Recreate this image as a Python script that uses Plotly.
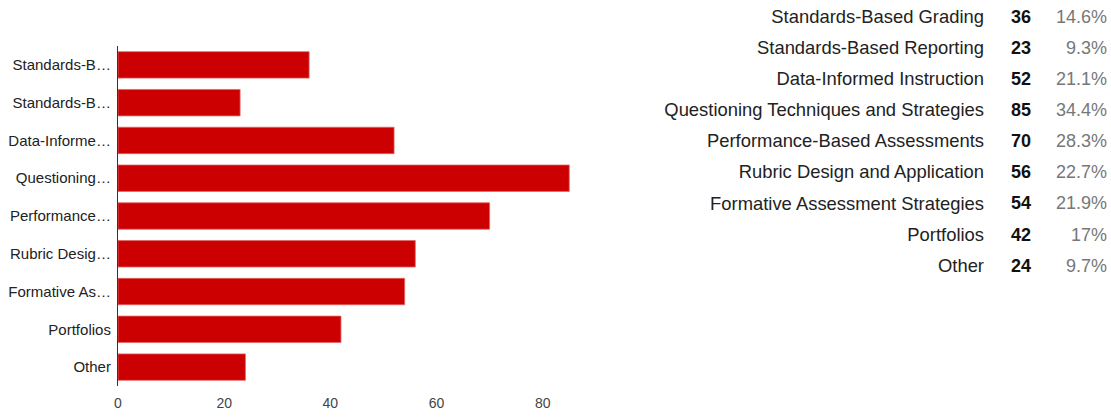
import plotly.graph_objects as go

# ---- data ----
categories = [
    "Standards-Based Grading",
    "Standards-Based Reporting",
    "Data-Informed Instruction",
    "Questioning Techniques and Strategies",
    "Performance-Based Assessments",
    "Rubric Design and Application",
    "Formative Assessment Strategies",
    "Portfolios",
    "Other",
]
short_labels = [
    "Standards-B\u2026",
    "Standards-B\u2026",
    "Data-Informe\u2026",
    "Questioning\u2026",
    "Performance\u2026",
    "Rubric Desig\u2026",
    "Formative As\u2026",
    "Portfolios",
    "Other",
]
counts = [36, 23, 52, 85, 70, 56, 54, 42, 24]
percents = ["14.6%", "9.3%", "21.1%", "34.4%", "28.3%", "22.7%", "21.9%", "17%", "9.7%"]
x_ticks = [0, 20, 40, 60, 80]

# ---- layout constants ----
W, H = 1111, 417
FONT = "Liberation Sans, Arial, sans-serif"
TBL_LEFT = 620
LABEL_RIGHT = 984
COUNT_LEFT = 1011
PCT_RIGHT = 1107

fig = go.Figure()

fig.add_trace(go.Bar(
    x=counts,
    y=categories,
    orientation="h",
    marker=dict(color="#cc0000", line=dict(color="#e06666", width=0.8)),
    hoverinfo="x+y",
    xaxis="x", yaxis="y",
))

# right-hand summary table as text columns
fig.add_trace(go.Scatter(
    x=[LABEL_RIGHT] * len(categories), y=categories, text=categories,
    mode="text", textposition="middle left",
    textfont=dict(family=FONT, size=18.4, color="#222222"),
    xaxis="x2", yaxis="y2", hoverinfo="skip",
))
fig.add_trace(go.Scatter(
    x=[COUNT_LEFT] * len(categories), y=categories,
    text=["<b>%d</b>" % c for c in counts],
    mode="text", textposition="middle right",
    textfont=dict(family=FONT, size=18, color="#111111"),
    xaxis="x2", yaxis="y2", hoverinfo="skip",
))
fig.add_trace(go.Scatter(
    x=[PCT_RIGHT] * len(categories), y=categories, text=percents,
    mode="text", textposition="middle left",
    textfont=dict(family=FONT, size=18, color="#777777"),
    xaxis="x2", yaxis="y2", hoverinfo="skip",
))

fig.update_layout(
    template="none",
    width=W, height=H,
    margin=dict(l=0, r=0, t=0, b=0),
    paper_bgcolor="white", plot_bgcolor="rgba(0,0,0,0)",
    showlegend=False,
    bargap=0.3,
    font=dict(family=FONT),
    xaxis=dict(
        domain=[118 / W, 595.8 / W], range=[0, 90],
        tickvals=x_ticks, showgrid=False, zeroline=False, showline=False,
        ticks="outside", ticklen=4, tickcolor="rgba(0,0,0,0)",
        tickfont=dict(family=FONT, size=14, color="#444444"),
        automargin=False, fixedrange=True,
    ),
    yaxis=dict(
        domain=[1 - 386 / H, 1 - 46 / H],
        autorange="reversed", type="category",
        tickmode="array", tickvals=categories, ticktext=short_labels,
        showgrid=False, zeroline=False,
        showline=True, linecolor="#333333", linewidth=1.2,
        ticks="outside", ticklen=3, tickcolor="rgba(0,0,0,0)",
        tickfont=dict(family=FONT, size=15, color="#222222"),
        automargin=False, fixedrange=True,
    ),
    xaxis2=dict(
        domain=[TBL_LEFT / W, 1], range=[TBL_LEFT, W], visible=False,
        anchor="y2", fixedrange=True,
    ),
    yaxis2=dict(
        domain=[1 - 281 / H, 1 - 4.5 / H], autorange="reversed",
        type="category", visible=False, anchor="x2", fixedrange=True,
    ),
)

fig.write_html("out.html")
